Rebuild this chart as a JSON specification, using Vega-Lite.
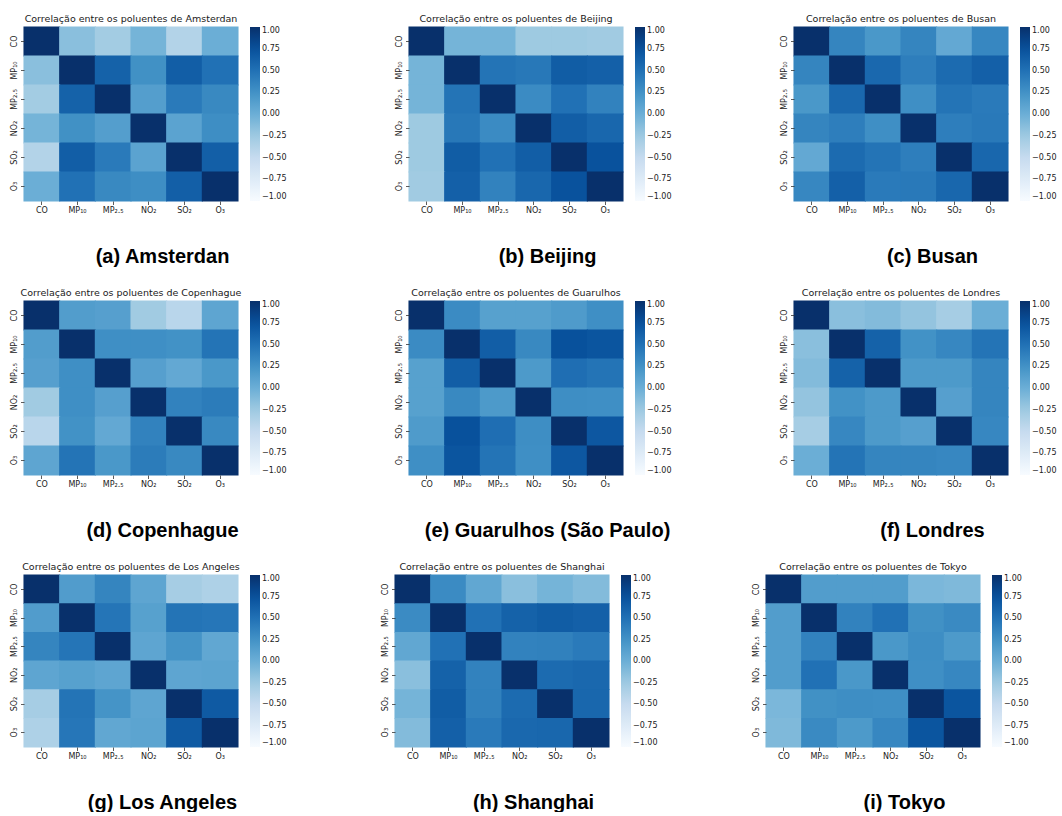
{
  "$schema": "https://vega.github.io/schema/vega-lite/v6.json",
  "background": "white",
  "padding": {"left": 10, "top": 14, "right": 0, "bottom": 0},
  "spacing": 22,
  "resolve": {"scale": {"color": "independent"}, "legend": {"color": "independent"}},
  "datasets": {
    "ams": [
      {"y":"CO","x":"CO","r":1},{"y":"CO","x":"MP₁₀","r":-0.15},{"y":"CO","x":"MP₂.₅","r":-0.28},{"y":"CO","x":"NO₂","r":-0.05},{"y":"CO","x":"SO₂","r":-0.38},{"y":"CO","x":"O₃","r":0},
      {"y":"MP₁₀","x":"CO","r":-0.15},{"y":"MP₁₀","x":"MP₁₀","r":1},{"y":"MP₁₀","x":"MP₂.₅","r":0.62},{"y":"MP₁₀","x":"NO₂","r":0.26},{"y":"MP₁₀","x":"SO₂","r":0.65},{"y":"MP₁₀","x":"O₃","r":0.5},
      {"y":"MP₂.₅","x":"CO","r":-0.28},{"y":"MP₂.₅","x":"MP₁₀","r":0.62},{"y":"MP₂.₅","x":"MP₂.₅","r":1},{"y":"MP₂.₅","x":"NO₂","r":0.14},{"y":"MP₂.₅","x":"SO₂","r":0.43},{"y":"MP₂.₅","x":"O₃","r":0.32},
      {"y":"NO₂","x":"CO","r":-0.05},{"y":"NO₂","x":"MP₁₀","r":0.26},{"y":"NO₂","x":"MP₂.₅","r":0.14},{"y":"NO₂","x":"NO₂","r":1},{"y":"NO₂","x":"SO₂","r":0.1},{"y":"NO₂","x":"O₃","r":0.28},
      {"y":"SO₂","x":"CO","r":-0.38},{"y":"SO₂","x":"MP₁₀","r":0.65},{"y":"SO₂","x":"MP₂.₅","r":0.43},{"y":"SO₂","x":"NO₂","r":0.1},{"y":"SO₂","x":"SO₂","r":1},{"y":"SO₂","x":"O₃","r":0.64},
      {"y":"O₃","x":"CO","r":0},{"y":"O₃","x":"MP₁₀","r":0.5},{"y":"O₃","x":"MP₂.₅","r":0.32},{"y":"O₃","x":"NO₂","r":0.28},{"y":"O₃","x":"SO₂","r":0.64},{"y":"O₃","x":"O₃","r":1}
    ],
    "bei": [
      {"y":"CO","x":"CO","r":1},{"y":"CO","x":"MP₁₀","r":-0.05},{"y":"CO","x":"MP₂.₅","r":-0.05},{"y":"CO","x":"NO₂","r":-0.25},{"y":"CO","x":"SO₂","r":-0.25},{"y":"CO","x":"O₃","r":-0.27},
      {"y":"MP₁₀","x":"CO","r":-0.05},{"y":"MP₁₀","x":"MP₁₀","r":1},{"y":"MP₁₀","x":"MP₂.₅","r":0.48},{"y":"MP₁₀","x":"NO₂","r":0.45},{"y":"MP₁₀","x":"SO₂","r":0.66},{"y":"MP₁₀","x":"O₃","r":0.63},
      {"y":"MP₂.₅","x":"CO","r":-0.05},{"y":"MP₂.₅","x":"MP₁₀","r":0.48},{"y":"MP₂.₅","x":"MP₂.₅","r":1},{"y":"MP₂.₅","x":"NO₂","r":0.3},{"y":"MP₂.₅","x":"SO₂","r":0.5},{"y":"MP₂.₅","x":"O₃","r":0.37},
      {"y":"NO₂","x":"CO","r":-0.25},{"y":"NO₂","x":"MP₁₀","r":0.45},{"y":"NO₂","x":"MP₂.₅","r":0.3},{"y":"NO₂","x":"NO₂","r":1},{"y":"NO₂","x":"SO₂","r":0.65},{"y":"NO₂","x":"O₃","r":0.58},
      {"y":"SO₂","x":"CO","r":-0.25},{"y":"SO₂","x":"MP₁₀","r":0.66},{"y":"SO₂","x":"MP₂.₅","r":0.5},{"y":"SO₂","x":"NO₂","r":0.65},{"y":"SO₂","x":"SO₂","r":1},{"y":"SO₂","x":"O₃","r":0.74},
      {"y":"O₃","x":"CO","r":-0.27},{"y":"O₃","x":"MP₁₀","r":0.63},{"y":"O₃","x":"MP₂.₅","r":0.37},{"y":"O₃","x":"NO₂","r":0.58},{"y":"O₃","x":"SO₂","r":0.74},{"y":"O₃","x":"O₃","r":1}
    ],
    "bus": [
      {"y":"CO","x":"CO","r":1},{"y":"CO","x":"MP₁₀","r":0.35},{"y":"CO","x":"MP₂.₅","r":0.2},{"y":"CO","x":"NO₂","r":0.35},{"y":"CO","x":"SO₂","r":0.05},{"y":"CO","x":"O₃","r":0.33},
      {"y":"MP₁₀","x":"CO","r":0.35},{"y":"MP₁₀","x":"MP₁₀","r":1},{"y":"MP₁₀","x":"MP₂.₅","r":0.57},{"y":"MP₁₀","x":"NO₂","r":0.4},{"y":"MP₁₀","x":"SO₂","r":0.55},{"y":"MP₁₀","x":"O₃","r":0.63},
      {"y":"MP₂.₅","x":"CO","r":0.2},{"y":"MP₂.₅","x":"MP₁₀","r":0.57},{"y":"MP₂.₅","x":"MP₂.₅","r":1},{"y":"MP₂.₅","x":"NO₂","r":0.27},{"y":"MP₂.₅","x":"SO₂","r":0.48},{"y":"MP₂.₅","x":"O₃","r":0.43},
      {"y":"NO₂","x":"CO","r":0.35},{"y":"NO₂","x":"MP₁₀","r":0.4},{"y":"NO₂","x":"MP₂.₅","r":0.27},{"y":"NO₂","x":"NO₂","r":1},{"y":"NO₂","x":"SO₂","r":0.4},{"y":"NO₂","x":"O₃","r":0.44},
      {"y":"SO₂","x":"CO","r":0.05},{"y":"SO₂","x":"MP₁₀","r":0.55},{"y":"SO₂","x":"MP₂.₅","r":0.48},{"y":"SO₂","x":"NO₂","r":0.4},{"y":"SO₂","x":"SO₂","r":1},{"y":"SO₂","x":"O₃","r":0.58},
      {"y":"O₃","x":"CO","r":0.33},{"y":"O₃","x":"MP₁₀","r":0.63},{"y":"O₃","x":"MP₂.₅","r":0.43},{"y":"O₃","x":"NO₂","r":0.44},{"y":"O₃","x":"SO₂","r":0.58},{"y":"O₃","x":"O₃","r":1}
    ],
    "cop": [
      {"y":"CO","x":"CO","r":1},{"y":"CO","x":"MP₁₀","r":0.15},{"y":"CO","x":"MP₂.₅","r":0.13},{"y":"CO","x":"NO₂","r":-0.27},{"y":"CO","x":"SO₂","r":-0.42},{"y":"CO","x":"O₃","r":0.08},
      {"y":"MP₁₀","x":"CO","r":0.15},{"y":"MP₁₀","x":"MP₁₀","r":1},{"y":"MP₁₀","x":"MP₂.₅","r":0.27},{"y":"MP₁₀","x":"NO₂","r":0.27},{"y":"MP₁₀","x":"SO₂","r":0.25},{"y":"MP₁₀","x":"O₃","r":0.48},
      {"y":"MP₂.₅","x":"CO","r":0.13},{"y":"MP₂.₅","x":"MP₁₀","r":0.27},{"y":"MP₂.₅","x":"MP₂.₅","r":1},{"y":"MP₂.₅","x":"NO₂","r":0.13},{"y":"MP₂.₅","x":"SO₂","r":0.05},{"y":"MP₂.₅","x":"O₃","r":0.2},
      {"y":"NO₂","x":"CO","r":-0.27},{"y":"NO₂","x":"MP₁₀","r":0.27},{"y":"NO₂","x":"MP₂.₅","r":0.13},{"y":"NO₂","x":"NO₂","r":1},{"y":"NO₂","x":"SO₂","r":0.37},{"y":"NO₂","x":"O₃","r":0.42},
      {"y":"SO₂","x":"CO","r":-0.42},{"y":"SO₂","x":"MP₁₀","r":0.25},{"y":"SO₂","x":"MP₂.₅","r":0.05},{"y":"SO₂","x":"NO₂","r":0.37},{"y":"SO₂","x":"SO₂","r":1},{"y":"SO₂","x":"O₃","r":0.32},
      {"y":"O₃","x":"CO","r":0.08},{"y":"O₃","x":"MP₁₀","r":0.48},{"y":"O₃","x":"MP₂.₅","r":0.2},{"y":"O₃","x":"NO₂","r":0.42},{"y":"O₃","x":"SO₂","r":0.32},{"y":"O₃","x":"O₃","r":1}
    ],
    "gua": [
      {"y":"CO","x":"CO","r":1},{"y":"CO","x":"MP₁₀","r":0.3},{"y":"CO","x":"MP₂.₅","r":0.12},{"y":"CO","x":"NO₂","r":0.12},{"y":"CO","x":"SO₂","r":0.17},{"y":"CO","x":"O₃","r":0.27},
      {"y":"MP₁₀","x":"CO","r":0.3},{"y":"MP₁₀","x":"MP₁₀","r":1},{"y":"MP₁₀","x":"MP₂.₅","r":0.65},{"y":"MP₁₀","x":"NO₂","r":0.32},{"y":"MP₁₀","x":"SO₂","r":0.75},{"y":"MP₁₀","x":"O₃","r":0.72},
      {"y":"MP₂.₅","x":"CO","r":0.12},{"y":"MP₂.₅","x":"MP₁₀","r":0.65},{"y":"MP₂.₅","x":"MP₂.₅","r":1},{"y":"MP₂.₅","x":"NO₂","r":0.18},{"y":"MP₂.₅","x":"SO₂","r":0.52},{"y":"MP₂.₅","x":"O₃","r":0.48},
      {"y":"NO₂","x":"CO","r":0.12},{"y":"NO₂","x":"MP₁₀","r":0.32},{"y":"NO₂","x":"MP₂.₅","r":0.18},{"y":"NO₂","x":"NO₂","r":1},{"y":"NO₂","x":"SO₂","r":0.28},{"y":"NO₂","x":"O₃","r":0.27},
      {"y":"SO₂","x":"CO","r":0.17},{"y":"SO₂","x":"MP₁₀","r":0.75},{"y":"SO₂","x":"MP₂.₅","r":0.52},{"y":"SO₂","x":"NO₂","r":0.28},{"y":"SO₂","x":"SO₂","r":1},{"y":"SO₂","x":"O₃","r":0.7},
      {"y":"O₃","x":"CO","r":0.27},{"y":"O₃","x":"MP₁₀","r":0.72},{"y":"O₃","x":"MP₂.₅","r":0.48},{"y":"O₃","x":"NO₂","r":0.27},{"y":"O₃","x":"SO₂","r":0.7},{"y":"O₃","x":"O₃","r":1}
    ],
    "lon": [
      {"y":"CO","x":"CO","r":1},{"y":"CO","x":"MP₁₀","r":-0.15},{"y":"CO","x":"MP₂.₅","r":-0.12},{"y":"CO","x":"NO₂","r":-0.2},{"y":"CO","x":"SO₂","r":-0.3},{"y":"CO","x":"O₃","r":0},
      {"y":"MP₁₀","x":"CO","r":-0.15},{"y":"MP₁₀","x":"MP₁₀","r":1},{"y":"MP₁₀","x":"MP₂.₅","r":0.62},{"y":"MP₁₀","x":"NO₂","r":0.25},{"y":"MP₁₀","x":"SO₂","r":0.33},{"y":"MP₁₀","x":"O₃","r":0.48},
      {"y":"MP₂.₅","x":"CO","r":-0.12},{"y":"MP₂.₅","x":"MP₁₀","r":0.62},{"y":"MP₂.₅","x":"MP₂.₅","r":1},{"y":"MP₂.₅","x":"NO₂","r":0.18},{"y":"MP₂.₅","x":"SO₂","r":0.18},{"y":"MP₂.₅","x":"O₃","r":0.35},
      {"y":"NO₂","x":"CO","r":-0.2},{"y":"NO₂","x":"MP₁₀","r":0.25},{"y":"NO₂","x":"MP₂.₅","r":0.18},{"y":"NO₂","x":"NO₂","r":1},{"y":"NO₂","x":"SO₂","r":0.13},{"y":"NO₂","x":"O₃","r":0.35},
      {"y":"SO₂","x":"CO","r":-0.3},{"y":"SO₂","x":"MP₁₀","r":0.33},{"y":"SO₂","x":"MP₂.₅","r":0.18},{"y":"SO₂","x":"NO₂","r":0.13},{"y":"SO₂","x":"SO₂","r":1},{"y":"SO₂","x":"O₃","r":0.33},
      {"y":"O₃","x":"CO","r":0},{"y":"O₃","x":"MP₁₀","r":0.48},{"y":"O₃","x":"MP₂.₅","r":0.35},{"y":"O₃","x":"NO₂","r":0.35},{"y":"O₃","x":"SO₂","r":0.33},{"y":"O₃","x":"O₃","r":1}
    ],
    "la": [
      {"y":"CO","x":"CO","r":1},{"y":"CO","x":"MP₁₀","r":0.16},{"y":"CO","x":"MP₂.₅","r":0.35},{"y":"CO","x":"NO₂","r":0.08},{"y":"CO","x":"SO₂","r":-0.3},{"y":"CO","x":"O₃","r":-0.35},
      {"y":"MP₁₀","x":"CO","r":0.16},{"y":"MP₁₀","x":"MP₁₀","r":1},{"y":"MP₁₀","x":"MP₂.₅","r":0.47},{"y":"MP₁₀","x":"NO₂","r":0.12},{"y":"MP₁₀","x":"SO₂","r":0.48},{"y":"MP₁₀","x":"O₃","r":0.46},
      {"y":"MP₂.₅","x":"CO","r":0.35},{"y":"MP₂.₅","x":"MP₁₀","r":0.47},{"y":"MP₂.₅","x":"MP₂.₅","r":1},{"y":"MP₂.₅","x":"NO₂","r":0.08},{"y":"MP₂.₅","x":"SO₂","r":0.23},{"y":"MP₂.₅","x":"O₃","r":0.06},
      {"y":"NO₂","x":"CO","r":0.08},{"y":"NO₂","x":"MP₁₀","r":0.12},{"y":"NO₂","x":"MP₂.₅","r":0.08},{"y":"NO₂","x":"NO₂","r":1},{"y":"NO₂","x":"SO₂","r":0.08},{"y":"NO₂","x":"O₃","r":0.09},
      {"y":"SO₂","x":"CO","r":-0.3},{"y":"SO₂","x":"MP₁₀","r":0.48},{"y":"SO₂","x":"MP₂.₅","r":0.23},{"y":"SO₂","x":"NO₂","r":0.08},{"y":"SO₂","x":"SO₂","r":1},{"y":"SO₂","x":"O₃","r":0.68},
      {"y":"O₃","x":"CO","r":-0.35},{"y":"O₃","x":"MP₁₀","r":0.46},{"y":"O₃","x":"MP₂.₅","r":0.06},{"y":"O₃","x":"NO₂","r":0.09},{"y":"O₃","x":"SO₂","r":0.68},{"y":"O₃","x":"O₃","r":1}
    ],
    "sha": [
      {"y":"CO","x":"CO","r":1},{"y":"CO","x":"MP₁₀","r":0.3},{"y":"CO","x":"MP₂.₅","r":0.06},{"y":"CO","x":"NO₂","r":-0.15},{"y":"CO","x":"SO₂","r":-0.05},{"y":"CO","x":"O₃","r":-0.12},
      {"y":"MP₁₀","x":"CO","r":0.3},{"y":"MP₁₀","x":"MP₁₀","r":1},{"y":"MP₁₀","x":"MP₂.₅","r":0.5},{"y":"MP₁₀","x":"NO₂","r":0.62},{"y":"MP₁₀","x":"SO₂","r":0.66},{"y":"MP₁₀","x":"O₃","r":0.63},
      {"y":"MP₂.₅","x":"CO","r":0.06},{"y":"MP₂.₅","x":"MP₁₀","r":0.5},{"y":"MP₂.₅","x":"MP₂.₅","r":1},{"y":"MP₂.₅","x":"NO₂","r":0.37},{"y":"MP₂.₅","x":"SO₂","r":0.38},{"y":"MP₂.₅","x":"O₃","r":0.43},
      {"y":"NO₂","x":"CO","r":-0.15},{"y":"NO₂","x":"MP₁₀","r":0.62},{"y":"NO₂","x":"MP₂.₅","r":0.37},{"y":"NO₂","x":"NO₂","r":1},{"y":"NO₂","x":"SO₂","r":0.55},{"y":"NO₂","x":"O₃","r":0.57},
      {"y":"SO₂","x":"CO","r":-0.05},{"y":"SO₂","x":"MP₁₀","r":0.66},{"y":"SO₂","x":"MP₂.₅","r":0.38},{"y":"SO₂","x":"NO₂","r":0.55},{"y":"SO₂","x":"SO₂","r":1},{"y":"SO₂","x":"O₃","r":0.58},
      {"y":"O₃","x":"CO","r":-0.12},{"y":"O₃","x":"MP₁₀","r":0.63},{"y":"O₃","x":"MP₂.₅","r":0.43},{"y":"O₃","x":"NO₂","r":0.57},{"y":"O₃","x":"SO₂","r":0.58},{"y":"O₃","x":"O₃","r":1}
    ],
    "tok": [
      {"y":"CO","x":"CO","r":1},{"y":"CO","x":"MP₁₀","r":0.15},{"y":"CO","x":"MP₂.₅","r":0.15},{"y":"CO","x":"NO₂","r":0.15},{"y":"CO","x":"SO₂","r":-0.08},{"y":"CO","x":"O₃","r":-0.1},
      {"y":"MP₁₀","x":"CO","r":0.15},{"y":"MP₁₀","x":"MP₁₀","r":1},{"y":"MP₁₀","x":"MP₂.₅","r":0.37},{"y":"MP₁₀","x":"NO₂","r":0.5},{"y":"MP₁₀","x":"SO₂","r":0.26},{"y":"MP₁₀","x":"O₃","r":0.31},
      {"y":"MP₂.₅","x":"CO","r":0.15},{"y":"MP₂.₅","x":"MP₁₀","r":0.37},{"y":"MP₂.₅","x":"MP₂.₅","r":1},{"y":"MP₂.₅","x":"NO₂","r":0.2},{"y":"MP₂.₅","x":"SO₂","r":0.28},{"y":"MP₂.₅","x":"O₃","r":0.18},
      {"y":"NO₂","x":"CO","r":0.15},{"y":"NO₂","x":"MP₁₀","r":0.5},{"y":"NO₂","x":"MP₂.₅","r":0.2},{"y":"NO₂","x":"NO₂","r":1},{"y":"NO₂","x":"SO₂","r":0.27},{"y":"NO₂","x":"O₃","r":0.33},
      {"y":"SO₂","x":"CO","r":-0.08},{"y":"SO₂","x":"MP₁₀","r":0.26},{"y":"SO₂","x":"MP₂.₅","r":0.28},{"y":"SO₂","x":"NO₂","r":0.27},{"y":"SO₂","x":"SO₂","r":1},{"y":"SO₂","x":"O₃","r":0.72},
      {"y":"O₃","x":"CO","r":-0.1},{"y":"O₃","x":"MP₁₀","r":0.31},{"y":"O₃","x":"MP₂.₅","r":0.18},{"y":"O₃","x":"NO₂","r":0.33},{"y":"O₃","x":"SO₂","r":0.72},{"y":"O₃","x":"O₃","r":1}
    ]
  },
  "vconcat": [
    {
      "hconcat": [
        {"width": 214, "height": 174, "data": {"name": "ams"}, "title": "Correlação entre os poluentes de Amsterdan", "mark": {"type": "rect", "width": {"band": 1.03}, "height": {"band": 1.03}},
         "encoding": {
           "x": {"field": "x", "type": "nominal", "sort": ["CO","MP₁₀","MP₂.₅","NO₂","SO₂","O₃"], "axis": {"title": "(a) Amsterdan", "titleX": 138, "titleY": 61}},
           "y": {"field": "y", "type": "nominal", "sort": ["CO","MP₁₀","MP₂.₅","NO₂","SO₂","O₃"], "axis": {"title": null}},
           "color": {"field": "r", "type": "quantitative", "scale": {"domain": [-1,-0.75,-0.5,-0.25,0,0.25,0.5,0.75,1], "range": ["#f7fbff","#deebf7","#c6dbef","#9ecae1","#6baed6","#4292c6","#2171b5","#08519c","#08306b"], "interpolate": "rgb"}, "legend": {"type": "gradient", "title": null, "values": [-1,-0.75,-0.5,-0.25,0,0.25,0.5,0.75,1], "format": ".2f"}}
         }},
        {"width": 214, "height": 174, "data": {"name": "bei"}, "title": "Correlação entre os poluentes de Beijing", "mark": {"type": "rect", "width": {"band": 1.03}, "height": {"band": 1.03}},
         "encoding": {
           "x": {"field": "x", "type": "nominal", "sort": ["CO","MP₁₀","MP₂.₅","NO₂","SO₂","O₃"], "axis": {"title": "(b) Beijing", "titleX": 138, "titleY": 61}},
           "y": {"field": "y", "type": "nominal", "sort": ["CO","MP₁₀","MP₂.₅","NO₂","SO₂","O₃"], "axis": {"title": null}},
           "color": {"field": "r", "type": "quantitative", "scale": {"domain": [-1,-0.75,-0.5,-0.25,0,0.25,0.5,0.75,1], "range": ["#f7fbff","#deebf7","#c6dbef","#9ecae1","#6baed6","#4292c6","#2171b5","#08519c","#08306b"], "interpolate": "rgb"}, "legend": {"type": "gradient", "title": null, "values": [-1,-0.75,-0.5,-0.25,0,0.25,0.5,0.75,1], "format": ".2f"}}
         }},
        {"width": 214, "height": 174, "data": {"name": "bus"}, "title": "Correlação entre os poluentes de Busan", "mark": {"type": "rect", "width": {"band": 1.03}, "height": {"band": 1.03}},
         "encoding": {
           "x": {"field": "x", "type": "nominal", "sort": ["CO","MP₁₀","MP₂.₅","NO₂","SO₂","O₃"], "axis": {"title": "(c) Busan", "titleX": 138, "titleY": 61}},
           "y": {"field": "y", "type": "nominal", "sort": ["CO","MP₁₀","MP₂.₅","NO₂","SO₂","O₃"], "axis": {"title": null}},
           "color": {"field": "r", "type": "quantitative", "scale": {"domain": [-1,-0.75,-0.5,-0.25,0,0.25,0.5,0.75,1], "range": ["#f7fbff","#deebf7","#c6dbef","#9ecae1","#6baed6","#4292c6","#2171b5","#08519c","#08306b"], "interpolate": "rgb"}, "legend": {"type": "gradient", "title": null, "values": [-1,-0.75,-0.5,-0.25,0,0.25,0.5,0.75,1], "format": ".2f"}}
         }}
      ],
      "bounds": "flush", "spacing": 171,
      "resolve": {"scale": {"color": "independent"}, "legend": {"color": "independent"}}
    },
    {
      "hconcat": [
        {"width": 214, "height": 174, "data": {"name": "cop"}, "title": "Correlação entre os poluentes de Copenhague", "mark": {"type": "rect", "width": {"band": 1.03}, "height": {"band": 1.03}},
         "encoding": {
           "x": {"field": "x", "type": "nominal", "sort": ["CO","MP₁₀","MP₂.₅","NO₂","SO₂","O₃"], "axis": {"title": "(d) Copenhague", "titleX": 138, "titleY": 61}},
           "y": {"field": "y", "type": "nominal", "sort": ["CO","MP₁₀","MP₂.₅","NO₂","SO₂","O₃"], "axis": {"title": null}},
           "color": {"field": "r", "type": "quantitative", "scale": {"domain": [-1,-0.75,-0.5,-0.25,0,0.25,0.5,0.75,1], "range": ["#f7fbff","#deebf7","#c6dbef","#9ecae1","#6baed6","#4292c6","#2171b5","#08519c","#08306b"], "interpolate": "rgb"}, "legend": {"type": "gradient", "title": null, "values": [-1,-0.75,-0.5,-0.25,0,0.25,0.5,0.75,1], "format": ".2f"}}
         }},
        {"width": 214, "height": 174, "data": {"name": "gua"}, "title": "Correlação entre os poluentes de Guarulhos", "mark": {"type": "rect", "width": {"band": 1.03}, "height": {"band": 1.03}},
         "encoding": {
           "x": {"field": "x", "type": "nominal", "sort": ["CO","MP₁₀","MP₂.₅","NO₂","SO₂","O₃"], "axis": {"title": "(e) Guarulhos (São Paulo)", "titleX": 138, "titleY": 61}},
           "y": {"field": "y", "type": "nominal", "sort": ["CO","MP₁₀","MP₂.₅","NO₂","SO₂","O₃"], "axis": {"title": null}},
           "color": {"field": "r", "type": "quantitative", "scale": {"domain": [-1,-0.75,-0.5,-0.25,0,0.25,0.5,0.75,1], "range": ["#f7fbff","#deebf7","#c6dbef","#9ecae1","#6baed6","#4292c6","#2171b5","#08519c","#08306b"], "interpolate": "rgb"}, "legend": {"type": "gradient", "title": null, "values": [-1,-0.75,-0.5,-0.25,0,0.25,0.5,0.75,1], "format": ".2f"}}
         }},
        {"width": 214, "height": 174, "data": {"name": "lon"}, "title": "Correlação entre os poluentes de Londres", "mark": {"type": "rect", "width": {"band": 1.03}, "height": {"band": 1.03}},
         "encoding": {
           "x": {"field": "x", "type": "nominal", "sort": ["CO","MP₁₀","MP₂.₅","NO₂","SO₂","O₃"], "axis": {"title": "(f) Londres", "titleX": 138, "titleY": 61}},
           "y": {"field": "y", "type": "nominal", "sort": ["CO","MP₁₀","MP₂.₅","NO₂","SO₂","O₃"], "axis": {"title": null}},
           "color": {"field": "r", "type": "quantitative", "scale": {"domain": [-1,-0.75,-0.5,-0.25,0,0.25,0.5,0.75,1], "range": ["#f7fbff","#deebf7","#c6dbef","#9ecae1","#6baed6","#4292c6","#2171b5","#08519c","#08306b"], "interpolate": "rgb"}, "legend": {"type": "gradient", "title": null, "values": [-1,-0.75,-0.5,-0.25,0,0.25,0.5,0.75,1], "format": ".2f"}}
         }}
      ],
      "bounds": "flush", "spacing": 171,
      "resolve": {"scale": {"color": "independent"}, "legend": {"color": "independent"}}
    },
    {
      "hconcat": [
        {"width": 214, "height": 172, "data": {"name": "la"}, "title": "Correlação entre os poluentes de Los Angeles", "mark": {"type": "rect", "width": {"band": 1.03}, "height": {"band": 1.03}},
         "encoding": {
           "x": {"field": "x", "type": "nominal", "sort": ["CO","MP₁₀","MP₂.₅","NO₂","SO₂","O₃"], "axis": {"title": "(g) Los Angeles", "titleX": 138, "titleY": 61}},
           "y": {"field": "y", "type": "nominal", "sort": ["CO","MP₁₀","MP₂.₅","NO₂","SO₂","O₃"], "axis": {"title": null}},
           "color": {"field": "r", "type": "quantitative", "scale": {"domain": [-1,-0.75,-0.5,-0.25,0,0.25,0.5,0.75,1], "range": ["#f7fbff","#deebf7","#c6dbef","#9ecae1","#6baed6","#4292c6","#2171b5","#08519c","#08306b"], "interpolate": "rgb"}, "legend": {"type": "gradient", "title": null, "gradientLength": 172, "values": [-1,-0.75,-0.5,-0.25,0,0.25,0.5,0.75,1], "format": ".2f"}}
         }},
        {"width": 214, "height": 172, "data": {"name": "sha"}, "title": "Correlação entre os poluentes de Shanghai", "mark": {"type": "rect", "width": {"band": 1.03}, "height": {"band": 1.03}},
         "encoding": {
           "x": {"field": "x", "type": "nominal", "sort": ["CO","MP₁₀","MP₂.₅","NO₂","SO₂","O₃"], "axis": {"title": "(h) Shanghai", "titleX": 138, "titleY": 61}},
           "y": {"field": "y", "type": "nominal", "sort": ["CO","MP₁₀","MP₂.₅","NO₂","SO₂","O₃"], "axis": {"title": null}},
           "color": {"field": "r", "type": "quantitative", "scale": {"domain": [-1,-0.75,-0.5,-0.25,0,0.25,0.5,0.75,1], "range": ["#f7fbff","#deebf7","#c6dbef","#9ecae1","#6baed6","#4292c6","#2171b5","#08519c","#08306b"], "interpolate": "rgb"}, "legend": {"type": "gradient", "title": null, "gradientLength": 172, "values": [-1,-0.75,-0.5,-0.25,0,0.25,0.5,0.75,1], "format": ".2f"}}
         }},
        {"width": 214, "height": 172, "data": {"name": "tok"}, "title": "Correlação entre os poluentes de Tokyo", "mark": {"type": "rect", "width": {"band": 1.03}, "height": {"band": 1.03}},
         "encoding": {
           "x": {"field": "x", "type": "nominal", "sort": ["CO","MP₁₀","MP₂.₅","NO₂","SO₂","O₃"], "axis": {"title": "(i) Tokyo", "titleX": 138, "titleY": 61}},
           "y": {"field": "y", "type": "nominal", "sort": ["CO","MP₁₀","MP₂.₅","NO₂","SO₂","O₃"], "axis": {"title": null}},
           "color": {"field": "r", "type": "quantitative", "scale": {"domain": [-1,-0.75,-0.5,-0.25,0,0.25,0.5,0.75,1], "range": ["#f7fbff","#deebf7","#c6dbef","#9ecae1","#6baed6","#4292c6","#2171b5","#08519c","#08306b"], "interpolate": "rgb"}, "legend": {"type": "gradient", "title": null, "gradientLength": 172, "values": [-1,-0.75,-0.5,-0.25,0,0.25,0.5,0.75,1], "format": ".2f"}}
         }}
      ],
      "bounds": "flush", "spacing": 157,
      "resolve": {"scale": {"color": "independent"}, "legend": {"color": "independent"}}
    }
  ],
  "config": {
    "view": {"stroke": null},
    "font": "DejaVu Sans",
    "title": {"font": "DejaVu Sans", "fontSize": 9.5, "fontWeight": "normal", "color": "#1a1a1a", "offset": 3, "anchor": "middle"},
    "axis": {"domain": false, "grid": false, "ticks": true, "tickSize": 3.5, "tickWidth": 0.8, "tickColor": "#333333", "labelFont": "DejaVu Sans", "labelFontSize": 8, "labelColor": "#222222", "labelPadding": 2, "titleFont": "Liberation Sans", "titleFontSize": 20, "titleFontWeight": "bold", "titleColor": "#000000", "titleAlign": "center", "titleBaseline": "alphabetic"},
    "axisY": {"labelAngle": -90, "labelAlign": "center", "labelBaseline": "bottom"},
    "axisX": {"labelAngle": 0},
    "legend": {"orient": "right", "direction": "vertical", "gradientLength": 174, "gradientThickness": 10, "gradientStrokeWidth": 0, "offset": 12, "padding": 0, "labelFont": "DejaVu Sans", "labelFontSize": 8, "labelColor": "#222222", "labelOffset": 5, "labelOverlap": false, "labelBaseline": "middle"}
  }
}
